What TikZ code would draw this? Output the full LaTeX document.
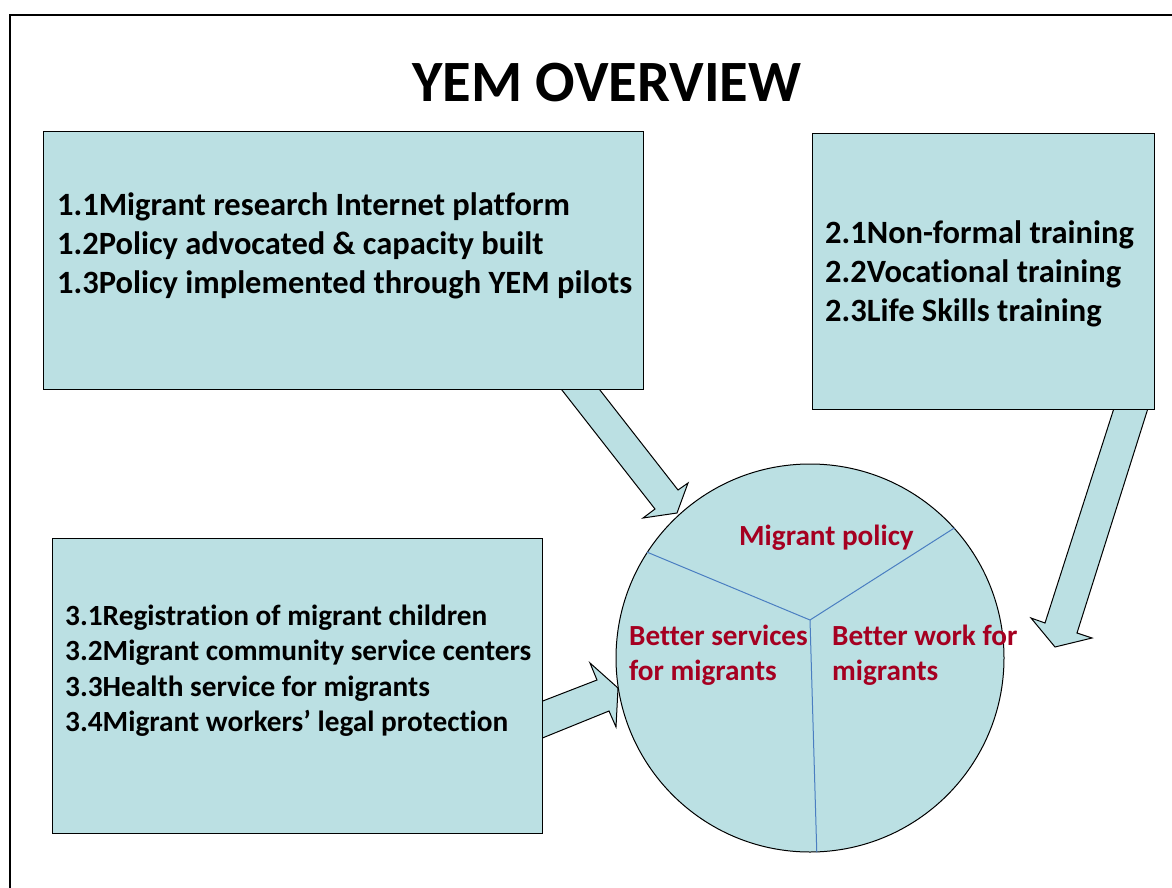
\documentclass[tikz,border=0pt]{standalone}
\usepackage{fontspec}
\setmainfont{Carlito}[Ligatures=NoCommon]
\definecolor{boxfill}{RGB}{187,224,227}
\definecolor{pietext}{RGB}{165,0,33}
\definecolor{pieline}{RGB}{74,126,193}
\begin{document}
\begin{tikzpicture}[x=1pt,y=-1pt,
  boxstyle/.style={draw=black, line width=1.3pt, fill=boxfill, inner sep=0pt, anchor=north west},
  blockarrow/.style={draw=black, line width=1pt, fill=boxfill, line join=miter},
  itemtext/.style={anchor=base west, inner sep=0pt, font=\bfseries\fontsize{32.5}{38}\selectfont},
  itemtextsmall/.style={anchor=base west, inner sep=0pt, font=\bfseries\fontsize{29.3}{35}\selectfont},
  pielabel/.style={anchor=base west, inner sep=0pt, text=pietext, font=\bfseries\fontsize{29.2}{35}\selectfont},
  divider/.style={draw=pieline, line width=1pt}
]
\useasboundingbox (0,0) rectangle (1172,888);
\fill[white] (0,0) rectangle (1172,888);
\draw[line width=2.5pt] (10,888) -- (10,15) -- (1172,15);

% title
\node[anchor=base, inner sep=0pt, font=\bfseries\fontsize{58.5}{70}\selectfont] (title) at (607,102) {YEM OVERVIEW};

% block arrows (drawn first, boxes cover their tails)
\draw[blockarrow] (558,385) -- (655,509) -- (643,518) -- (677,513) -- (688,483) -- (678,490) -- (596,385) -- cycle;
\draw[blockarrow] (1115,405) -- (1045,623) -- (1031,618) -- (1055,647) -- (1092,638) -- (1077,633) -- (1149,405) -- cycle;
\draw[blockarrow] (535,704) -- (597,680) -- (590,663) -- (618,688) -- (616,727) -- (609,711) -- (535,741) -- cycle;

% boxes
\node[boxstyle, minimum width=600pt, minimum height=258pt] (b1) at (43,131) {};
\node[boxstyle, minimum width=342pt, minimum height=276pt] (b2) at (812,133) {};
\node[boxstyle, minimum width=490pt, minimum height=295pt] (b3) at (52,538) {};

% box texts
\foreach \t [count=\i] in {1.1Migrant research Internet platform,
                           1.2Policy advocated \& capacity built,
                           1.3Policy implemented through YEM pilots}
  \node[itemtext] (t1-\i) at (57,{215+39*(\i-1)}) {\t};
\foreach \t [count=\i] in {2.1Non-formal training,
                           2.2Vocational training,
                           2.3Life Skills training}
  \node[itemtext] (t2-\i) at (825,{243+39*(\i-1)}) {\t};
\foreach \t [count=\i] in {3.1Registration of migrant children,
                           3.2Migrant community service centers,
                           3.3Health service for migrants,
                           3.4Migrant workers’ legal protection}
  \node[itemtextsmall] (t3-\i) at (65,{625+35.5*(\i-1)}) {\t};

% pie
\node[circle, draw=black, line width=1pt, fill=boxfill, minimum size=388pt, inner sep=0pt] (pie) at (810,658) {};
\coordinate (pc) at (810,620);
\draw[divider] (pc) -- (pie.147);
\draw[divider] (pc) -- (pie.42);
\draw[divider] (pc) -- (pie.272);

\node[pielabel] (p1) at (739,545) {Migrant policy};
\node[pielabel] (p2a) at (629,645) {Better services};
\node[pielabel] (p2b) at (629,680) {for migrants};
\node[pielabel] (p3a) at (832,645) {Better work for};
\node[pielabel] (p3b) at (832,680) {migrants};
\end{tikzpicture}
\end{document}
